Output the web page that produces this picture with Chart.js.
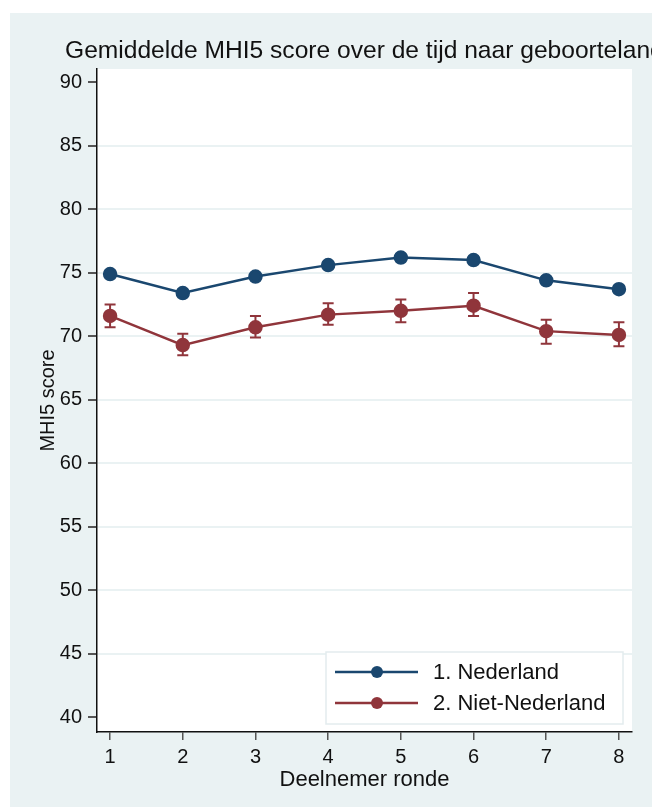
<!DOCTYPE html>
<html>
<head>
<meta charset="utf-8">
<script src="https://cdn.jsdelivr.net/npm/chart.js@4.4.0/dist/chart.umd.min.js"></script>
<style>
	html,body{margin:0;padding:0;background:#fff;}
	#wrap{position:absolute;left:10px;top:13px;width:642px;height:794px;background:#eaf2f3;}
</style>
</head>
<body>
<div id="wrap"><canvas id="grafico"></canvas></div>
<script>
// rondes en gemiddelden (met betrouwbaarheidsinterval)
var rondes = [1,2,3,4,5,6,7,8];
var nlGem  = [74.9,73.4,74.7,75.6,76.2,76.0,74.4,73.7];
var nlLaag = [74.65,73.15,74.45,75.35,75.95,75.75,74.15,73.45];
var nlHoog = [75.15,73.65,74.95,75.85,76.45,76.25,74.65,73.95];
var nnGem  = [71.6,69.3,70.7,71.7,72.0,72.4,70.4,70.1];
var nnLaag = [70.7,68.5,69.9,70.9,71.1,71.6,69.4,69.2];
var nnHoog = [72.5,70.2,71.6,72.6,72.9,73.4,71.3,71.1];
var yTicks = [40,45,50,55,60,65,70,75,80,85,90];
var labels = ['1. Nederland','2. Niet-Nederland'];
var kleuren = ['#1a476f','#90353b'];

var titel = 'Gemiddelde MHI5 score over de tijd naar geboorteland';
var fontFam = "'Liberation Sans', Arial, sans-serif";

function punten(ys){
	var arr=[];
	for (var i = 0; i < rondes.length; i++) {
		arr.push({x:rondes[i], y:ys[i]});
	}
	return arr;
}

var achtergrond = {
	id:'achtergrond',
	beforeDraw:function(chart){
		var ctx=chart.ctx, a=chart.chartArea;
		ctx.save();
		ctx.fillStyle='#ffffff';
		ctx.fillRect(a.left,a.top,a.right-a.left,a.bottom-a.top);
		ctx.restore();
	},
	afterDraw:function(chart){
		var ctx=chart.ctx;
		ctx.save();
		ctx.fillStyle='#111';
		ctx.font='24.6px '+fontFam;
		ctx.textBaseline='alphabetic';
		ctx.fillText(titel,55,45);
		ctx.restore();
	}
};

var foutbalken = {
	id:'foutbalken',
	beforeDatasetsDraw:function(chart){
		var ctx=chart.ctx, xs=chart.scales.x, ys=chart.scales.y;
		var sets=[[nlLaag,nlHoog],[nnLaag,nnHoog]];
		ctx.save();
		ctx.lineWidth=2;
		for (var s = 0; s < sets.length; s++) {
			ctx.strokeStyle=kleuren[s];
			for (var i = 0; i < rondes.length; i++) {
				var px=xs.getPixelForValue(rondes[i]);
				var y1=ys.getPixelForValue(sets[s][0][i]);
				var y2=ys.getPixelForValue(sets[s][1][i]);
				ctx.beginPath();
				ctx.moveTo(px,y1);ctx.lineTo(px,y2);
				ctx.moveTo(px-5.5,y1);ctx.lineTo(px+5.5,y1);
				ctx.moveTo(px-5.5,y2);ctx.lineTo(px+5.5,y2);
				ctx.stroke();
			}
		}
		ctx.restore();
	}
};

var legenda = {
	id:'legenda',
	afterDatasetsDraw:function(chart){
		var ctx=chart.ctx;
		ctx.save();
		ctx.fillStyle='#ffffff';
		ctx.fillRect(316,639,297,72);
		ctx.strokeStyle='#e3ecee';
		ctx.lineWidth=1.5;
		ctx.strokeRect(316,639,297,72);
		var rijen=[659,690];
		ctx.font='22px '+fontFam;
		ctx.textBaseline='middle';
		for (var i = 0; i < labels.length; i++) {
			ctx.strokeStyle=kleuren[i];
			ctx.lineWidth=2.5;
			ctx.beginPath();
			ctx.moveTo(325,rijen[i]);ctx.lineTo(408,rijen[i]);
			ctx.stroke();
			ctx.fillStyle=kleuren[i];
			ctx.beginPath();
			ctx.arc(367,rijen[i],6,0,Math.PI*2);
			ctx.fill();
			ctx.fillStyle='#111';
			ctx.fillText(labels[i],423,rijen[i]+1);
		}
		ctx.restore();
	}
};

Chart.defaults.font.family=fontFam;
Chart.defaults.color='#111';

var config = {
	type:'line',
	data:{
		datasets:[{
			label:labels[0],
			data:punten(nlGem),
			borderColor:kleuren[0],
			backgroundColor:kleuren[0],
			borderWidth:2.5,
			pointRadius:6,
			pointHoverRadius:6,
			tension:0
		},{
			label:labels[1],
			data:punten(nnGem),
			borderColor:kleuren[1],
			backgroundColor:kleuren[1],
			borderWidth:2.5,
			pointRadius:6,
			pointHoverRadius:6,
			tension:0
		}]
	},
	options:{
		responsive:true,
		maintainAspectRatio:false,
		animation:false,
		layout:{padding:{left:0,right:20,top:56,bottom:0}},
		plugins:{
			legend:{display:false},
			title:{display:false},
			tooltip:{enabled:false}
		},
		scales:{
			x:{
				type:'linear',
				min:0.82,
				max:8.18,
				afterBuildTicks:function(s){ s.ticks=rondes.map(function(v){return {value:v};}); },
				afterFit:function(s){ s.height=75; },
				grid:{drawOnChartArea:false,tickLength:8,tickColor:'#555',lineWidth:1.5},
				border:{color:'#111',width:1.5},
				ticks:{font:{size:20},padding:5,maxRotation:0,color:'#111'},
				title:{display:true,text:'Deelnemer ronde',font:{size:22},padding:{top:0,bottom:14},color:'#111'}
			},
			y:{
				type:'linear',
				min:38.82,
				max:91.05,
				afterBuildTicks:function(s){ s.ticks=yTicks.map(function(v){return {value:v};}); },
				afterFit:function(s){ s.width=87; },
				grid:{
					color:function(c){ return (c.tick && (c.tick.value==40 || c.tick.value==90)) ? 'rgba(0,0,0,0)' : '#eaf2f3'; },
					lineWidth:2,
					tickLength:9,
					tickColor:'#555'
				},
				border:{color:'#111',width:1.5},
				ticks:{font:{size:20},padding:6,color:'#111'},
				title:{display:true,text:'MHI5 score',font:{size:20},padding:{top:26,bottom:0},color:'#111'}
			}
		}
	},
	plugins:[achtergrond,foutbalken,legenda]
};

var ctx=document.getElementById('grafico').getContext('2d');
window.grafiek=new Chart(ctx,config);
</script>
</body>
</html>
